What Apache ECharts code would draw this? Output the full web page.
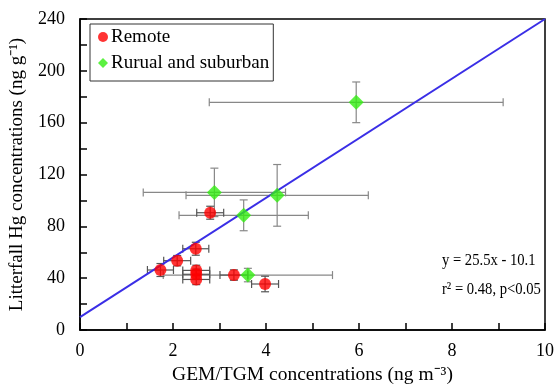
<!DOCTYPE html>
<html>
<head>
<meta charset="utf-8">
<script src="https://cdn.jsdelivr.net/npm/echarts@6/dist/echarts.min.js"></script>
<style>
  html, body { margin: 0; padding: 0; background: #fff; }
  #chart { width: 557px; height: 384px; }
</style>
</head>
<body>
<div id="chart"></div>
<script>
// Remote sites: x, y, x error, y error
const remoteX = [1.73, 2.09, 2.49, 2.50, 2.50, 2.50, 3.31, 3.98, 2.80];
const remoteY = [46.3, 53.5, 62.7, 46, 43, 39, 42.4, 35.5, 90.5];
const remoteXErr = [0.28, 0.29, 0.28, 0.29, 0.29, 0.29, 0.30, 0.29, 0.29];
const remoteYErr = [5, 4, 5, 4, 4, 4, 4, 6, 5];

// Rural and suburban sites
const ruralX = [2.89, 4.24, 3.52, 5.94, 3.61];
const ruralY = [106.2, 103.9, 88.5, 175.7, 42.4];
const ruralXErr = [1.53, 1.96, 1.39, 3.16, 1.82];
const ruralYErr = [18.7, 23.8, 11.9, 15.7, 5.2];

// fitted line as drawn
const fitX = [0, 10];
const fitY = [10, 240];

const font = 'Liberation Serif';

const zip = (xs, ys, xe, ye) => xs.map((x, i) => [x, ys[i], xe ? xe[i] : 0, ye ? ye[i] : 0]);

function errorBars(color) {
  return function (params, api) {
    const x = api.value(0), y = api.value(1), ex = api.value(2), ey = api.value(3);
    const c = api.coord([x, y]);
    const l = api.coord([x - ex, y]), r = api.coord([x + ex, y]);
    const t = api.coord([x, y + ey]), b = api.coord([x, y - ey]);
    const cap = 4;
    const style = { stroke: color, lineWidth: 1.2 };
    const seg = (x1, y1, x2, y2) => ({ type: 'line', shape: { x1, y1, x2, y2 }, style });
    return {
      type: 'group',
      children: [
        seg(l[0], c[1], r[0], c[1]),
        seg(l[0], c[1] - cap, l[0], c[1] + cap),
        seg(r[0], c[1] - cap, r[0], c[1] + cap),
        seg(c[0], t[1], c[0], b[1]),
        seg(c[0] - cap, t[1], c[0] + cap, t[1]),
        seg(c[0] - cap, b[1], c[0] + cap, b[1])
      ]
    };
  };
}

const chart = echarts.init(document.getElementById('chart'));

chart.setOption({
  animation: false,
  grid: {
    left: 80, right: 12, top: 19, bottom: 54,
    outerBoundsMode: 'none',
    show: true, borderColor: '#000', borderWidth: 1.5
  },
  legend: {
    data: ['Remote', 'Rurual and suburban'],
    orient: 'vertical',
    left: 90,
    top: 24,
    padding: [3, 4, 8, 8],
    itemGap: 6,
    itemWidth: 10,
    itemHeight: 10,
    borderColor: '#333',
    borderWidth: 1,
    textStyle: { fontFamily: font, fontSize: 19, lineHeight: 20, color: '#000', padding: [0, 0, 0, -2] }
  },
  xAxis: {
    type: 'value',
    min: 0, max: 10, interval: 2,
    name: 'GEM/TGM concentrations (ng m\u207B\u00B3)',
    nameLocation: 'middle',
    nameGap: 33,
    nameTextStyle: { fontFamily: font, fontSize: 19.5, color: '#000' },
    axisLine: { lineStyle: { color: '#000', width: 1.5 } },
    axisTick: { inside: true, length: 7, lineStyle: { color: '#000', width: 1.5 } },
    minorTick: { show: true, splitNumber: 2, length: 7, lineStyle: { color: '#000', width: 1.5 } },
    axisLabel: { fontFamily: font, fontSize: 18, color: '#000', margin: 12 },
    splitLine: { show: false }
  },
  yAxis: {
    type: 'value',
    min: 0, max: 240, interval: 40,
    name: 'Litterfall Hg concentrations (ng g\u207B\u00B9)',
    nameLocation: 'middle',
    nameGap: 53,
    nameTextStyle: { fontFamily: font, fontSize: 19, color: '#000' },
    axisLine: { lineStyle: { color: '#000', width: 1.5 } },
    axisTick: { inside: true, length: 7, lineStyle: { color: '#000', width: 1.5 } },
    minorTick: { show: true, splitNumber: 2, length: 7, lineStyle: { color: '#000', width: 1.5 } },
    axisLabel: { fontFamily: font, fontSize: 18, color: '#000', margin: 15 },
    splitLine: { show: false }
  },
  graphic: [
    {
      type: 'text', x: 442, y: 246, scaleX: 0.86,
      style: { text: 'y = 25.5x - 10.1\nr\u00B2 = 0.48, p<0.05', fontFamily: font, fontSize: 17, lineHeight: 29, fill: '#000' }
    }
  ],
  series: [
    {
      type: 'custom',
      name: 'rural-err',
      renderItem: errorBars('#888'),
      data: zip(ruralX, ruralY, ruralXErr, ruralYErr),
      encode: { x: 0, y: 1 },
      z: 1,
      silent: true
    },
    {
      type: 'custom',
      name: 'remote-err',
      renderItem: errorBars('#555'),
      data: zip(remoteX, remoteY, remoteXErr, remoteYErr),
      encode: { x: 0, y: 1 },
      z: 1,
      silent: true
    },
    {
      type: 'line',
      data: fitX.map((x, i) => [x, fitY[i]]),
      symbol: 'none',
      lineStyle: { color: '#3a2ee6', width: 2 },
      z: 2,
      silent: true
    },
    {
      type: 'scatter',
      name: 'Remote',
      data: zip(remoteX, remoteY).map(d => d.slice(0, 2)),
      symbol: 'circle',
      symbolSize: 12,
      itemStyle: { color: '#ff0000' },
      z: 3
    },
    {
      type: 'scatter',
      name: 'Rurual and suburban',
      data: zip(ruralX, ruralY).map(d => d.slice(0, 2)),
      symbol: 'diamond',
      symbolSize: 15,
      itemStyle: { color: '#33ee11' },
      z: 3
    }
  ]
});
</script>
</body>
</html>
